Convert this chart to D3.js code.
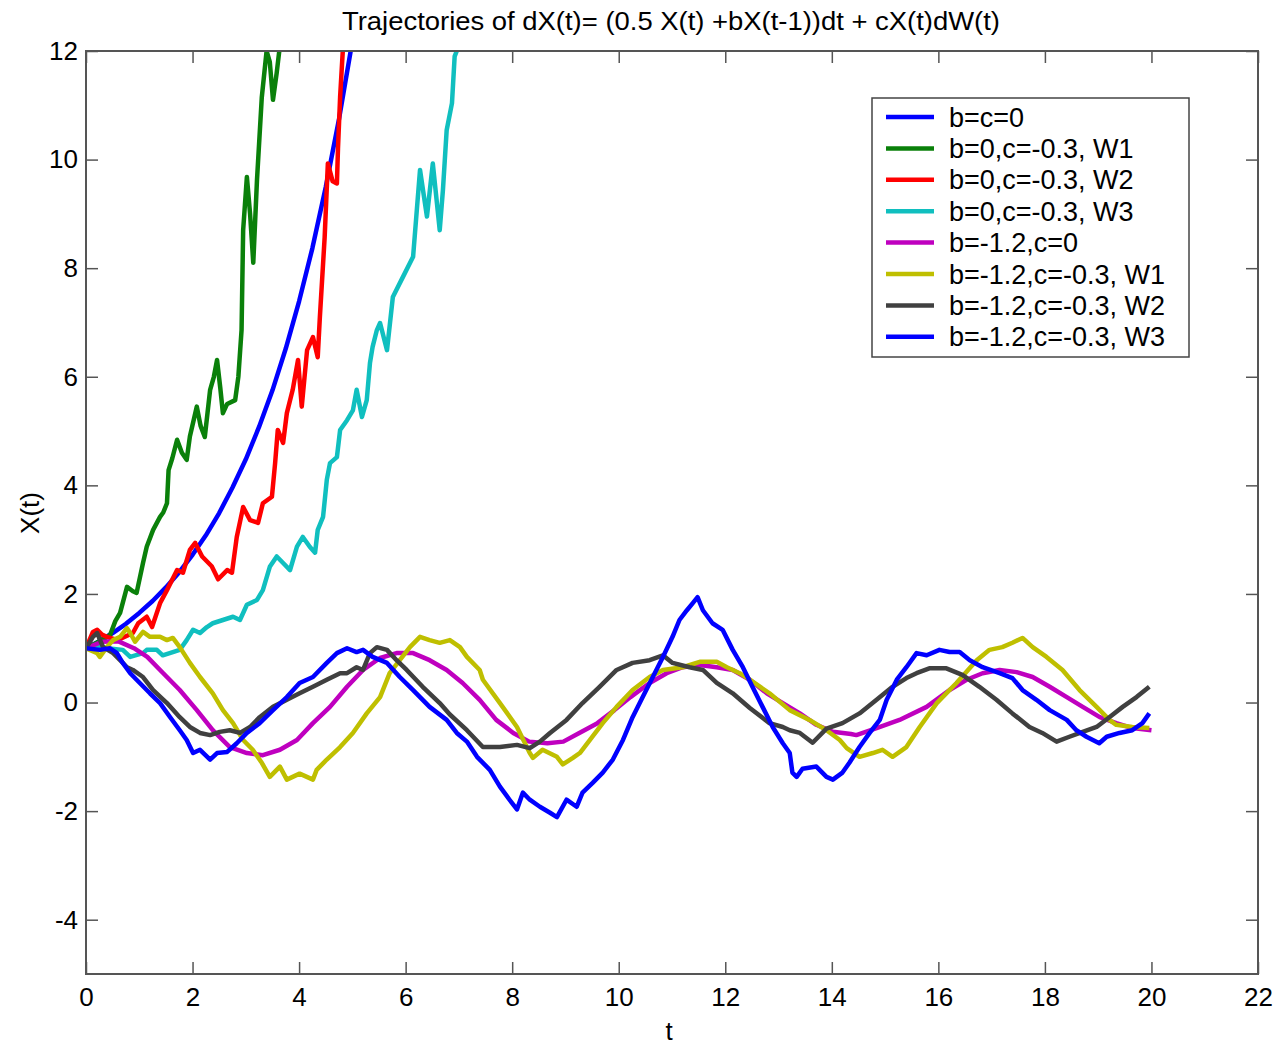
<!DOCTYPE html>
<html>
<head>
<meta charset="utf-8">
<script src="https://cdn.jsdelivr.net/npm/d3@7"></script>
<style>
  body { margin: 0; background: #fff; }
  svg { display: block; font-family: Arial, "Liberation Sans", sans-serif; }
</style>
</head>
<body>
<div id="chart"></div>
<script>
// tick values
const xTicks = [0, 2, 4, 6, 8, 10, 12, 14, 16, 18, 20, 22];
const yTicks = [-4, -2, 0, 2, 4, 6, 8, 10, 12];

const seriesLabels = ['b=c=0', 'b=0,c=-0.3, W1', 'b=0,c=-0.3, W2', 'b=0,c=-0.3, W3',
  'b=-1.2,c=0', 'b=-1.2,c=-0.3, W1', 'b=-1.2,c=-0.3, W2', 'b=-1.2,c=-0.3, W3'];
const seriesColors = ['#0000ff', '#0a800a', '#ff0000', '#10bfbf', '#bf00bf', '#bfbf00', '#404040', '#0000ff'];

// [t, X(t)]
const bc0 = [[0,1],[0.25,1.13],[0.5,1.28],[0.75,1.45],[1,1.65],[1.25,1.87],[1.5,2.12],[1.75,2.4],[2,2.72],
  [2.25,3.08],[2.5,3.49],[2.75,3.96],[3,4.48],[3.25,5.08],[3.5,5.75],[3.75,6.52],[4,7.39],[4.25,8.37],
  [4.5,9.49],[4.75,10.75],[5,12.18]];

const b0W1 = [[0,1],[0.2,1.1],[0.45,1.24],[0.55,1.5],[0.64,1.65],[0.77,2.13],[0.88,2.05],[0.95,2.02],[1.07,2.57],
  [1.14,2.87],[1.26,3.18],[1.39,3.42],[1.45,3.5],[1.52,3.67],[1.55,4.28],[1.62,4.5],[1.71,4.84],[1.8,4.6],
  [1.89,4.47],[1.95,4.9],[2.08,5.45],[2.15,5.1],[2.23,4.89],[2.33,5.76],[2.4,6.0],[2.46,6.31],[2.52,5.8],
  [2.57,5.33],[2.65,5.5],[2.8,5.57],[2.86,6.0],[2.92,6.86],[2.95,8.7],[3.02,9.68],[3.08,9.0],[3.14,8.1],
  [3.21,9.63],[3.3,11.15],[3.39,12.0],[3.45,11.8],[3.51,11.1],[3.58,11.6],[3.64,12.1],[3.7,13]];

const b0W2 = [[0,1],[0.13,1.3],[0.21,1.34],[0.3,1.25],[0.39,1.21],[0.6,1.15],[0.88,1.28],[0.98,1.46],[1.14,1.58],
  [1.24,1.39],[1.39,1.83],[1.52,2.07],[1.71,2.44],[1.82,2.39],[1.95,2.81],[2.05,2.94],[2.18,2.69],[2.36,2.51],
  [2.48,2.27],[2.65,2.44],[2.74,2.39],[2.83,3.05],[2.95,3.6],[3.08,3.36],[3.23,3.31],[3.32,3.67],[3.49,3.79],
  [3.55,4.41],[3.6,5.02],[3.7,4.78],[3.77,5.33],[3.88,5.76],[3.98,6.31],[4.05,5.45],[4.15,6.49],[4.26,6.73],
  [4.35,6.36],[4.39,7.1],[4.48,8.57],[4.54,9.93],[4.63,9.6],[4.71,9.56],[4.73,10.2],[4.77,11.15],[4.82,12.0],
  [4.85,12.8]];

const b0W3 = [[0,1],[0.2,1.05],[0.4,1.0],[0.69,0.97],[0.83,0.84],[1.07,0.91],[1.14,0.97],[1.33,0.97],[1.44,0.87],
  [1.63,0.93],[1.76,0.97],[1.89,1.15],[2.01,1.34],[2.14,1.28],[2.27,1.39],[2.38,1.46],[2.57,1.52],[2.76,1.58],
  [2.89,1.52],[3.02,1.8],[3.21,1.89],[3.32,2.07],[3.45,2.5],[3.58,2.69],[3.7,2.57],[3.83,2.44],[3.96,2.87],
  [4.07,3.05],[4.2,2.87],[4.3,2.76],[4.35,3.18],[4.45,3.42],[4.52,4.1],[4.58,4.41],[4.71,4.52],[4.77,5.02],
  [4.9,5.2],[5.01,5.38],[5.08,5.76],[5.18,5.26],[5.27,5.57],[5.33,6.25],[5.38,6.55],[5.46,6.86],[5.52,6.99],
  [5.65,6.49],[5.76,7.47],[5.95,7.84],[6.14,8.21],[6.27,9.81],[6.4,8.95],[6.51,9.93],[6.64,8.7],[6.7,9.44],
  [6.77,10.54],[6.87,11.04],[6.92,11.9],[6.96,12.0],[7.0,12.8]];

const bm12c0 = [[0,1],[0.3,1.12],[0.6,1.13],[0.9,1.0],[1.15,0.84],[1.45,0.54],[1.76,0.23],[2.08,-0.14],[2.38,-0.51],
  [2.7,-0.82],[3.02,-0.93],[3.32,-0.97],[3.64,-0.87],[3.96,-0.69],[4.26,-0.38],[4.58,-0.08],[4.9,0.29],[5.2,0.6],
  [5.52,0.82],[5.83,0.91],[6.14,0.91],[6.45,0.78],[6.77,0.6],[7.07,0.36],[7.39,0.05],[7.7,-0.32],[8.02,-0.56],
  [8.32,-0.72],[8.66,-0.75],[8.96,-0.72],[9.26,-0.56],[9.6,-0.38],[9.92,-0.14],[10.22,0.1],[10.58,0.36],
  [10.9,0.54],[11.2,0.65],[11.52,0.69],[11.84,0.65],[12.14,0.6],[12.46,0.42],[12.78,0.17],[13.08,-0.01],
  [13.4,-0.2],[13.71,-0.41],[14.02,-0.54],[14.36,-0.58],[14.46,-0.6],[14.84,-0.47],[15.27,-0.32],[15.78,-0.08],
  [16.21,0.23],[16.53,0.42],[16.83,0.54],[17.15,0.6],[17.47,0.56],[17.77,0.47],[18.09,0.29],[18.41,0.1],
  [18.71,-0.08],[19.03,-0.27],[19.34,-0.38],[19.64,-0.47],[20,-0.51]];

const bm12W1 = [[0,1],[0.21,0.91],[0.26,0.84],[0.39,1.02],[0.51,1.15],[0.64,1.21],[0.77,1.37],[0.83,1.28],[0.92,1.12],
  [1.07,1.3],[1.2,1.21],[1.39,1.21],[1.52,1.15],[1.63,1.19],[1.76,1.02],[1.95,0.73],[2.14,0.47],[2.38,0.17],
  [2.57,-0.14],[2.76,-0.38],[2.95,-0.69],[3.13,-0.87],[3.3,-1.11],[3.45,-1.37],[3.64,-1.18],[3.77,-1.42],
  [4.01,-1.31],[4.26,-1.42],[4.33,-1.24],[4.52,-1.05],[4.77,-0.82],[5.01,-0.56],[5.27,-0.2],[5.52,0.1],[5.7,0.54],
  [5.89,0.78],[6.08,1.02],[6.27,1.21],[6.45,1.15],[6.64,1.1],[6.83,1.15],[7.02,1.02],[7.15,0.84],[7.39,0.6],
  [7.45,0.42],[7.77,-0.01],[8.09,-0.45],[8.33,-0.93],[8.39,-1.02],[8.57,-0.87],[8.84,-1.0],[8.95,-1.14],
  [9.14,-1.02],[9.27,-0.93],[9.46,-0.69],[9.7,-0.38],[9.96,-0.08],[10.26,0.23],[10.58,0.47],[10.83,0.6],
  [11.2,0.65],[11.52,0.75],[11.84,0.75],[12.03,0.65],[12.27,0.54],[12.46,0.42],[12.83,0.17],[13.21,-0.14],
  [13.58,-0.32],[13.9,-0.51],[14.15,-0.69],[14.28,-0.84],[14.52,-1.0],[14.77,-0.93],[14.95,-0.87],[15.14,-1.0],
  [15.4,-0.82],[15.65,-0.45],[15.97,-0.01],[16.34,0.36],[16.72,0.78],[16.96,0.97],[17.2,1.02],[17.39,1.1],
  [17.58,1.19],[17.77,1.02],[18.03,0.84],[18.33,0.6],[18.65,0.23],[18.97,-0.08],[19.21,-0.32],[19.34,-0.41],
  [19.64,-0.45],[19.96,-0.47]];

const bm12W2 = [[0,1],[0.13,1.21],[0.21,1.28],[0.32,1.02],[0.51,0.91],[0.64,0.78],[0.77,0.65],[0.88,0.6],[1.07,0.47],
  [1.26,0.23],[1.52,-0.01],[1.76,-0.27],[1.95,-0.45],[2.14,-0.56],[2.33,-0.6],[2.51,-0.54],[2.7,-0.51],
  [2.89,-0.56],[3.08,-0.45],[3.26,-0.27],[3.51,-0.08],[3.77,0.05],[4.01,0.17],[4.26,0.29],[4.52,0.42],
  [4.77,0.54],[4.9,0.54],[5.08,0.65],[5.2,0.6],[5.33,0.91],[5.46,1.02],[5.65,0.97],[5.83,0.78],[6.02,0.6],
  [6.32,0.29],[6.64,-0.01],[6.83,-0.22],[7.15,-0.51],[7.45,-0.82],[7.77,-0.82],[8.09,-0.78],[8.33,-0.84],
  [8.52,-0.72],[8.71,-0.56],[9.02,-0.32],[9.32,-0.01],[9.64,0.29],[9.96,0.6],[10.26,0.73],[10.58,0.78],
  [10.83,0.87],[11.01,0.73],[11.33,0.65],[11.58,0.6],[11.84,0.36],[12.14,0.17],[12.46,-0.1],[12.83,-0.38],
  [13.08,-0.45],[13.21,-0.51],[13.4,-0.56],[13.64,-0.74],[13.9,-0.48],[14.2,-0.38],[14.52,-0.2],[14.84,0.05],
  [15.14,0.29],[15.4,0.45],[15.59,0.54],[15.83,0.63],[16.15,0.63],[16.45,0.51],[16.77,0.29],[17.09,0.05],
  [17.39,-0.2],[17.71,-0.45],[17.95,-0.56],[18.22,-0.72],[18.46,-0.63],[18.71,-0.54],[18.97,-0.45],
  [19.21,-0.27],[19.46,-0.08],[19.72,0.1],[19.96,0.29]];

const bm12W3 = [[0,1],[0.26,0.97],[0.45,1.0],[0.58,0.91],[0.69,0.73],[0.83,0.54],[1.01,0.36],[1.2,0.17],[1.39,-0.01],
  [1.58,-0.27],[1.76,-0.51],[1.89,-0.69],[2.01,-0.93],[2.14,-0.87],[2.33,-1.05],[2.46,-0.93],[2.65,-0.91],
  [2.83,-0.75],[3.02,-0.56],[3.26,-0.38],[3.51,-0.14],[3.77,0.1],[4.01,0.36],[4.26,0.47],[4.52,0.73],
  [4.71,0.91],[4.9,1.0],[5.08,0.93],[5.2,0.97],[5.38,0.84],[5.65,0.73],[5.89,0.47],[6.14,0.23],[6.45,-0.08],
  [6.77,-0.32],[6.96,-0.56],[7.15,-0.72],[7.34,-1.0],[7.58,-1.24],[7.77,-1.55],[7.95,-1.79],[8.09,-1.97],
  [8.2,-1.66],[8.33,-1.79],[8.52,-1.92],[8.71,-2.03],[8.84,-2.11],[9.02,-1.79],[9.21,-1.92],[9.32,-1.66],
  [9.51,-1.48],[9.7,-1.29],[9.89,-1.05],[10.08,-0.69],[10.26,-0.27],[10.45,0.1],[10.64,0.47],[10.83,0.84],
  [11.01,1.21],[11.14,1.52],[11.28,1.7],[11.39,1.83],[11.48,1.94],[11.58,1.7],[11.76,1.46],[11.95,1.34],
  [12.14,0.97],[12.33,0.65],[12.51,0.29],[12.7,-0.08],[12.89,-0.45],[13.08,-0.75],[13.21,-0.93],[13.26,-1.29],
  [13.34,-1.37],[13.45,-1.22],[13.71,-1.18],[13.9,-1.37],[14.02,-1.42],[14.2,-1.29],[14.33,-1.11],[14.52,-0.82],
  [14.71,-0.56],[14.9,-0.32],[15.03,0.05],[15.22,0.42],[15.4,0.65],[15.59,0.91],[15.78,0.87],[16.02,0.97],
  [16.21,0.93],[16.4,0.93],[16.59,0.78],[16.83,0.65],[17.15,0.54],[17.39,0.45],[17.58,0.23],[17.84,0.05],
  [18.09,-0.14],[18.41,-0.32],[18.59,-0.51],[18.78,-0.63],[19.02,-0.75],[19.16,-0.63],[19.4,-0.56],
  [19.64,-0.51],[19.83,-0.38],[19.96,-0.2]];

const allSeries = [bc0, b0W1, b0W2, b0W3, bm12c0, bm12W1, bm12W2, bm12W3];

const width = 1279, height = 1046;
const margin = { top: 51, right: 21, bottom: 72, left: 86 };
const innerW = width - margin.left - margin.right;
const innerH = height - margin.top - margin.bottom;
const axisColor = '#555';

const svg = d3.select('#chart').append('svg')
  .attr('width', width)
  .attr('height', height);

const x = d3.scaleLinear().domain([0, 22]).range([0, innerW]);
const y = d3.scaleLinear().domain([-5, 12]).range([innerH, 0]);

const g = svg.append('g')
  .attr('transform', 'translate(' + margin.left + ',' + margin.top + ')');

g.append('clipPath').attr('id', 'plotClip')
  .append('rect').attr('width', innerW).attr('height', innerH);

// lines
const line = d3.line()
  .x(d => x(d[0]))
  .y(d => y(d[1]));

g.append('g').attr('clip-path', 'url(#plotClip)')
  .selectAll('path')
  .data(allSeries)
  .enter().append('path')
  .attr('d', line)
  .attr('fill', 'none')
  .attr('stroke', (d, i) => seriesColors[i])
  .attr('stroke-width', 4.5)
  .attr('stroke-linejoin', 'round');

// axes, ticks pointing inwards on all four sides (matlab style)
function styleAxis(sel) {
  sel.select('.domain').remove();
  sel.selectAll('.tick line').attr('stroke', axisColor).attr('stroke-width', 1.5);
  sel.selectAll('.tick text').attr('fill', '#000').style('font-size', '26px');
}
const plainFmt = d => String(d);   // hyphen minus like the original

g.append('g')
  .attr('transform', 'translate(0,' + innerH + ')')
  .call(d3.axisBottom(x).tickValues(xTicks).tickFormat(plainFmt).tickSizeInner(-12).tickSizeOuter(0).tickPadding(14))
  .call(styleAxis);

g.append('g')
  .call(d3.axisTop(x).tickValues(xTicks).tickSizeInner(-12).tickSizeOuter(0).tickFormat(''))
  .call(styleAxis);

g.append('g')
  .call(d3.axisLeft(y).tickValues(yTicks).tickFormat(plainFmt).tickSizeInner(-12).tickSizeOuter(0).tickPadding(8))
  .call(styleAxis);

g.append('g')
  .attr('transform', 'translate(' + innerW + ',0)')
  .call(d3.axisRight(y).tickValues(yTicks).tickSizeInner(-12).tickSizeOuter(0).tickFormat(''))
  .call(styleAxis);

g.append('rect')
  .attr('width', innerW).attr('height', innerH)
  .attr('fill', 'none').attr('stroke', axisColor).attr('stroke-width', 2);

// labels
svg.append('text')
  .attr('x', 342).attr('y', 30)
  .attr('textLength', 658).attr('lengthAdjust', 'spacingAndGlyphs')
  .style('font-size', '26px')
  .text('Trajectories of dX(t)= (0.5 X(t) +bX(t-1))dt + cX(t)dW(t)');

svg.append('text')
  .attr('x', 669).attr('y', 1040)
  .attr('text-anchor', 'middle').style('font-size', '26px')
  .text('t');

svg.append('text')
  .attr('transform', 'translate(39,513) rotate(-90)')
  .attr('text-anchor', 'middle').style('font-size', '26px')
  .text('X(t)');

// legend
const legend = svg.append('g').attr('transform', 'translate(872,98)');
legend.append('rect')
  .attr('width', 317).attr('height', 259)
  .attr('fill', '#fff').attr('stroke', '#444').attr('stroke-width', 1.5);

const rows = legend.selectAll('.row')
  .data(seriesLabels)
  .enter().append('g')
  .attr('class', 'row')
  .attr('transform', (d, i) => 'translate(0,' + (19 + i * 31.4) + ')');

rows.append('line')
  .attr('x1', 14).attr('x2', 62)
  .attr('stroke', (d, i) => seriesColors[i])
  .attr('stroke-width', 4.5);

rows.append('text')
  .attr('x', 77).attr('y', 9.5)
  .style('font-size', '27px')
  .text(d => d);
</script>
</body>
</html>
